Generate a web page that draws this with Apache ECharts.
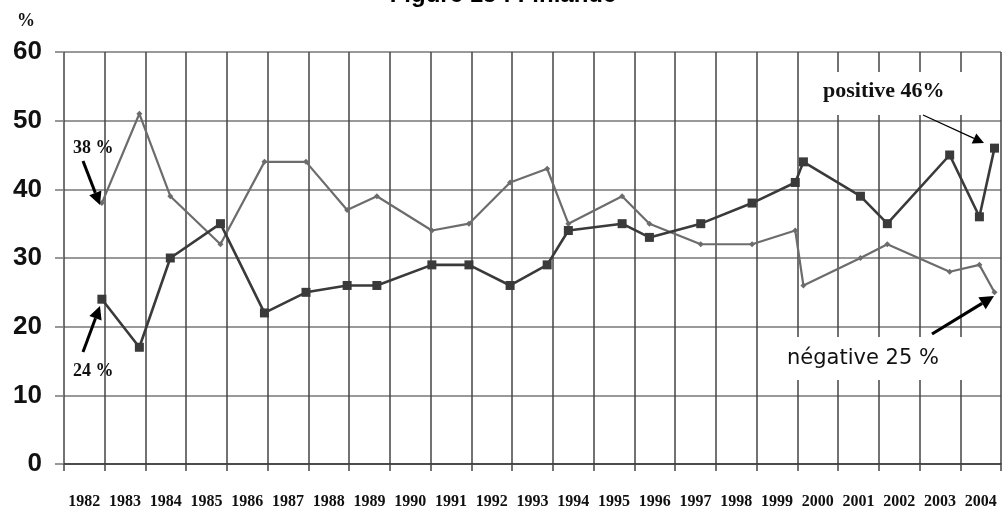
<!DOCTYPE html>
<html>
<head>
<meta charset="utf-8">
<title>Figure 15 : Finlande</title>
<script src="https://cdn.jsdelivr.net/npm/echarts@6/dist/echarts.min.js"></script>
<style>
	html, body { margin: 0; padding: 0; background: #fff; }
	#chart { width: 1006px; height: 510px; }
</style>
</head>
<body>
<div id="chart"></div>
<script>
// dates des enquêtes (années décimales)
var surveyDates = [1982.93, 1983.85, 1984.61, 1985.84, 1986.92, 1987.94, 1988.95, 1989.68,
	1991.03, 1991.94, 1992.95, 1993.86, 1994.38, 1995.70, 1996.37, 1997.63, 1998.89,
	1999.95, 2000.15, 2001.55, 2002.21, 2003.74, 2004.47, 2004.84]

// opinion positive / négative en %
var positive = [24, 17, 30, 35, 22, 25, 26, 26, 29, 29, 26, 29, 34, 35, 33, 35, 38, 41, 44, 39, 35, 45, 36, 46]
var negative = [38, 51, 39, 32, 44, 44, 37, 39, 34, 35, 41, 43, 35, 39, 35, 32, 32, 34, 26, 30, 32, 28, 29, 25]

// libellés de l'axe des années
var years = []
for (var y = 1982; y <= 2004; y++) years.push(String(y))

function pairs(xs, vs) {
	return vs.map(function (v, i) { return [xs[i], v] })
}

// flèche = trait + pointe pleine
function arrow(x1, y1, x2, y2, w, head) {
	var a = Math.atan2(y2 - y1, x2 - x1)
	var hw = head * 0.5
	var bx = x2 - head * Math.cos(a), by = y2 - head * Math.sin(a)
	return [{
		type: 'line',
		shape: { x1: x1, y1: y1, x2: bx, y2: by },
		style: { stroke: '#000', lineWidth: w },
		z: 100
	}, {
		type: 'polygon',
		shape: { points: [[x2, y2],
			[bx + hw * Math.sin(a), by - hw * Math.cos(a)],
			[bx - hw * Math.sin(a), by + hw * Math.cos(a)]] },
		style: { fill: '#000' },
		z: 100
	}]
}

var serif = '"Liberation Serif", "Times New Roman", serif'
var sans = '"Liberation Sans", Arial, sans-serif'

var chart = echarts.init(document.getElementById('chart'))

var option = {}
option.animation = false

option.title = {
	text: 'Figure 15 : Finlande',
	left: 'center',
	top: -17,
	padding: 0,
	textStyle: { fontFamily: sans, fontSize: 24, fontWeight: 'bold', color: '#000' }
}

option.grid = { left: 64, right: 5, top: 52, bottom: 43 }

option.xAxis = [{
	type: 'value',
	min: 1982,
	max: 2005,
	interval: 1,
	axisLine: { show: true, onZero: false, lineStyle: { color: '#333', width: 1.5 } },
	axisTick: { show: true, length: 7, lineStyle: { color: '#444', width: 1.5 } },
	axisLabel: { show: false },
	splitLine: { show: true, lineStyle: { color: '#444', width: 1.5 } }
}, {
	type: 'category',
	data: years,
	boundaryGap: true,
	position: 'bottom',
	axisLine: { show: false },
	axisTick: { show: false },
	splitLine: { show: false },
	axisLabel: {
		interval: 0,
		margin: 30,
		fontFamily: serif,
		fontSize: 16,
		fontWeight: 'bold',
		color: '#111'
	}
}]

option.yAxis = [{
	type: 'value',
	min: 0,
	max: 60,
	interval: 10,
	axisLine: { show: false },
	axisTick: { show: true, length: 9, lineStyle: { color: '#777', width: 1.5 } },
	axisLabel: {
		margin: 22,
		fontFamily: sans,
		fontSize: 26,
		fontWeight: 'bold',
		color: '#111'
	},
	splitLine: { show: true, lineStyle: { color: '#777', width: 1.5 } }
}]

option.series = [{
	name: 'négative',
	type: 'line',
	data: pairs(surveyDates, negative),
	symbol: 'diamond',
	symbolSize: 6,
	lineStyle: { color: '#6c6c6c', width: 2.2 },
	itemStyle: { color: '#6c6c6c' },
	z: 3
}, {
	name: 'positive',
	type: 'line',
	data: pairs(surveyDates, positive),
	symbol: 'rect',
	symbolSize: 9,
	lineStyle: { color: '#3a3a3a', width: 2.6 },
	itemStyle: { color: '#3a3a3a' },
	z: 4
}]

// annotations
var g = [{
	type: 'text', left: 17, top: 12, z: 100,
	style: { text: '%', font: 'bold 18px ' + serif, fill: '#111' }
}, {
	type: 'text', left: 73, top: 139, z: 100,
	style: { text: '38 %', font: 'bold 18px ' + serif, fill: '#111' }
}, {
	type: 'text', left: 73, top: 362, z: 100,
	style: { text: '24 %', font: 'bold 18px ' + serif, fill: '#111' }
}, {
	type: 'rect', shape: { x: 815, y: 72, width: 155, height: 43 }, z: 90,
	style: { fill: '#fff' }
}, {
	type: 'text', left: 823, top: 80, z: 100,
	style: { text: 'positive 46%', font: 'bold 22px ' + serif, fill: '#111' }
}, {
	type: 'rect', shape: { x: 778, y: 337, width: 196, height: 43 }, z: 90,
	style: { fill: '#fff' }
}, {
	type: 'text', left: 787, top: 348, z: 100,
	style: { text: 'négative 25 %', font: '21px "DejaVu Sans", sans-serif', fill: '#111' }
}]
g = g.concat(arrow(83, 161, 100, 205, 3, 13))
g = g.concat(arrow(83, 352, 100, 306, 3, 13))
g = g.concat(arrow(923, 115, 984, 143, 1.2, 11))
g = g.concat(arrow(932, 334, 994, 296, 3.2, 14))
option.graphic = g

chart.setOption(option)
</script>
</body>
</html>
